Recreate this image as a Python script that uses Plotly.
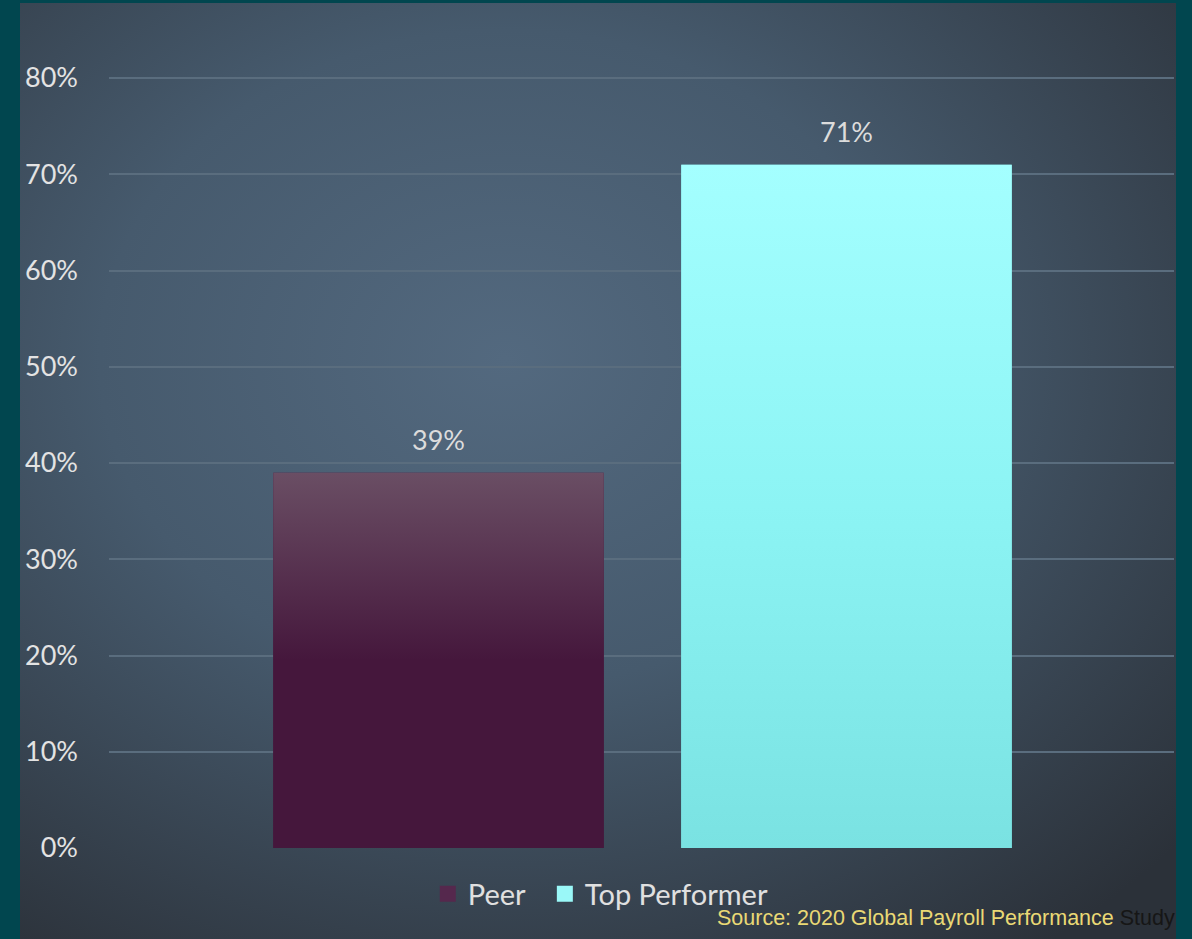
import base64
import plotly.graph_objects as go

# ---- data ----
categories = ["Peer", "Top Performer"]
values = [39, 71]
tick_vals = [0, 10, 20, 30, 40, 50, 60, 70, 80]
tick_text = ["0%", "10%", "20%", "30%", "40%", "50%", "60%", "70%", "80%"]
source_main = "Source: 2020 Global Payroll Performance"
source_tail = "Study"

# ---- styles ----
W, H = 1192, 939
bar_top_colors = ["#6a4e64", "#a4ffff"]
bar_mid_colors = ["#45173c", "#8cf4f4"]
bar_bottom_colors = ["#45173c", "#7ae2e2"]
legend_colors = ["#55284d", "#9af8f8"]
legend_pad = ["\u00a0\u00a0", ""]
bar_width = 0.81

svg = f"""<svg xmlns='http://www.w3.org/2000/svg' width='1156' height='936' viewBox='0 0 1156 936' preserveAspectRatio='none'>
<defs><radialGradient id='g' cx='0.42' cy='0.38' r='0.78' gradientUnits='objectBoundingBox'>
<stop offset='0' stop-color='#53697f'/>
<stop offset='0.45' stop-color='#465a6d'/>
<stop offset='1' stop-color='#2b3139'/>
</radialGradient></defs>
<rect width='1156' height='936' fill='url(#g)'/></svg>"""
svg_uri = "data:image/svg+xml;base64," + base64.b64encode(svg.encode()).decode()

fig = go.Figure()

xs = list(range(len(categories)))
for i, (cat, v) in enumerate(zip(categories, values)):
    fig.add_trace(go.Bar(
        x=[xs[i]], y=[v], name=cat, width=bar_width,
        marker=dict(color=bar_bottom_colors[i], line=dict(width=0)),
        hoverinfo="skip", showlegend=False,
    ))
    # gradient overlay built from the same data
    x0, x1 = xs[i] - bar_width / 2, xs[i] + bar_width / 2
    fig.add_trace(go.Scatter(
        x=[x0, x1, x1, x0, x0], y=[0, 0, v, v, 0],
        mode="lines", line=dict(width=0), fill="toself",
        fillgradient=dict(type="vertical",
                          colorscale=[[0, bar_bottom_colors[i]], [0.5, bar_mid_colors[i]], [1, bar_top_colors[i]]]),
        showlegend=False, hoverinfo="skip",
    ))

# legend entries (larger square swatches)
for i, cat in enumerate(categories):
    fig.add_trace(go.Scatter(
        x=[None], y=[None], name=cat + legend_pad[i], mode="markers",
        marker=dict(symbol="square", size=18, color=legend_colors[i]),
        showlegend=True,
    ))

for i, v in enumerate(values):
    fig.add_annotation(x=xs[i], y=v, text=f"{v}%", showarrow=False,
                       yshift=33, font=dict(family="Lato", size=27, color="#dcdcdc"),
                       xref="x", yref="y")

fig.add_annotation(
    x=1177 / W, y=1 - 918 / H, xref="paper", yref="paper",
    xanchor="right", yanchor="middle", showarrow=False,
    text=f"<span style='color:#ead975'>{source_main}</span> <span style='color:#161616'>{source_tail}</span>",
    font=dict(family="Liberation Sans", size=21.5),
)

fig.add_layout_image(dict(
    source=svg_uri, xref="paper", yref="paper",
    x=20 / W, y=1 - 3 / H, sizex=1156 / W, sizey=936 / H,
    xanchor="left", yanchor="top", sizing="stretch", layer="below",
))

px_per_unit = (848 - 78) / 80.0
y_top_val = 84
ydom0 = 1 - 848 / H
ydom1 = 1 - (848 - y_top_val * px_per_unit) / H

# x: centers at 438.5 and 846.5 px
unit = 846.5 - 438.5
xl, xr = 109, 1174
x_lo = 0 - (438.5 - xl) / unit
x_hi = 1 + (xr - 846.5) / unit

fig.update_layout(
    width=W, height=H,
    margin=dict(l=0, r=0, t=0, b=0, autoexpand=False),
    paper_bgcolor="#01464f",
    plot_bgcolor="rgba(0,0,0,0)",
    barmode="overlay",
    showlegend=True,
    legend=dict(orientation="h", x=0.504, y=1 - 894 / H, xanchor="center", yanchor="middle",
                font=dict(family="Lato", size=29, color="#e0e0e0"),
                bgcolor="rgba(0,0,0,0)", traceorder="normal"),
    xaxis=dict(domain=[xl / W, xr / W], range=[x_lo, x_hi], showticklabels=False,
               showgrid=False, zeroline=False, showline=False, ticks=""),
    yaxis=dict(domain=[ydom0, ydom1], range=[0, y_top_val], tickvals=tick_vals, ticktext=tick_text,
               showgrid=True, gridcolor="#5a6d7e", gridwidth=2, zeroline=False, showline=False,
               tickfont=dict(family="Lato", size=27, color="#e3e3e3"), ticklabelstandoff=30),
)

fig.write_html("out.html", config={"responsive": False, "displayModeBar": False},
               post_script="document.body.style.margin='0';document.body.style.overflow='hidden';")
